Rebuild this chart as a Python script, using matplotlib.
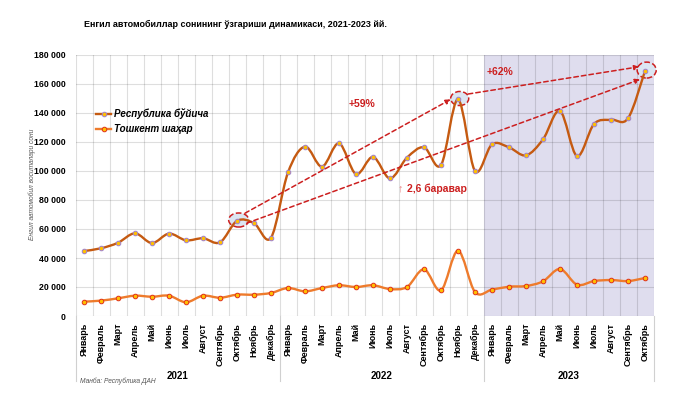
import matplotlib
matplotlib.use("Agg")
import matplotlib.pyplot as plt
import numpy as np
from matplotlib.path import Path
from matplotlib.patches import PathPatch, Ellipse
from matplotlib.ticker import MultipleLocator, FuncFormatter

plt.rcParams['font.family'] = ['Liberation Sans', 'DejaVu Sans']

# data
months = ["Январь", "Февраль", "Март", "Апрель", "Май", "Июнь", "Июль",
          "Август", "Сентябрь", "Октябрь", "Ноябрь", "Декабрь"]
years = ["2021", "2022", "2023"]
month_labels = months * 2 + months[:10]

republic = [44800, 46700, 50500, 57000, 50300, 56800, 52200, 53600, 50800, 65600, 64000, 54000,
            99000, 116800, 103000, 119100, 97900, 109700, 94900, 109200, 116300, 104100, 149400, 100000,
            118400, 116300, 110800, 121800, 141400, 110300, 132400, 135400, 136300, 169000]
tashkent = [9900, 10600, 12200, 14000, 13300, 14000, 9500, 14000, 12600, 14700, 14700, 15900,
            19300, 17000, 19300, 21200, 20000, 21200, 18600, 20000, 32200, 17700, 45000, 16500,
            18200, 20200, 20700, 23900, 32400, 21600, 24100, 24800, 24100, 26200]

title = "Енгил автомобиллар сонининг ўзгариши динамикаси, 2021-2023 йй."
red = "#CC1F1F"


def smooth_path(x, y):
    # excel-like smoothed line: catmull-rom segments as cubic beziers
    pts = np.column_stack([x, y]).astype(float)
    n = len(pts)
    verts = [pts[0]]
    codes = [Path.MOVETO]
    for i in range(n - 1):
        p0 = pts[max(i - 1, 0)]
        p1 = pts[i]
        p2 = pts[i + 1]
        p3 = pts[min(i + 2, n - 1)]
        c1 = p1 + (p2 - p0) / 6
        c2 = p2 - (p3 - p1) / 6
        verts += [c1, c2, p2]
        codes += [Path.CURVE4] * 3
    return Path(verts, codes)


fig = plt.figure(figsize=(6.8, 3.97), dpi=100)
ax = fig.add_axes([75.5 / 680, 81 / 397, 578 / 680, 261 / 397])

x = np.arange(len(republic))
ax.set_xlim(-0.5, len(republic) - 0.5)
ax.set_ylim(0, 180000)

# 2023 shading
ax.axvspan(23.5, len(republic) - 0.5, color="#DFDDEE", zorder=0, lw=0)

# grid
ax.yaxis.set_major_locator(MultipleLocator(20000))
ax.xaxis.set_major_locator(MultipleLocator(1))
ax.set_xticks(np.arange(-0.5, len(republic), 1), minor=True)
ax.grid(True, which="major", axis="y", color="#000000", alpha=0.13, lw=0.8, zorder=1)
ax.grid(True, which="minor", axis="x", color="#000000", alpha=0.13, lw=0.8, zorder=1)
ax.set_axisbelow(True)
for s in ax.spines.values():
    s.set_visible(False)

ax.yaxis.set_major_formatter(FuncFormatter(lambda v, p: f"{int(v):,}".replace(",", " ")))
ax.tick_params(axis="y", length=0, pad=7, labelsize=6.3)
for t in ax.get_yticklabels():
    t.set_fontweight("bold")
ax.set_xticks(x)
ax.set_xticklabels(month_labels, rotation=90, fontsize=6.5, fontweight="bold")
ax.tick_params(axis="x", which="both", length=0, pad=5)

# lines
ax.add_patch(PathPatch(smooth_path(x, republic), fill=False, edgecolor="#C55A11", lw=1.7, zorder=3))
ax.plot(x, republic, ls="none", marker="o", ms=3.3, mfc="#FFC000", mec="#9E80D0", mew=0.7, zorder=4)
ax.add_patch(PathPatch(smooth_path(x, tashkent), fill=False, edgecolor="#EE7B2C", lw=1.7, zorder=3))
ax.plot(x, tashkent, ls="none", marker="o", ms=3.3, mfc="#FFC000", mec="#E0301A", mew=0.7, zorder=4)

# legend
h1, = ax.plot([], [], color="#C55A11", lw=1.7, marker="o", ms=3.3, mfc="#FFC000", mec="#9E80D0", mew=0.7)
h2, = ax.plot([], [], color="#EE7B2C", lw=1.7, marker="o", ms=3.3, mfc="#FFC000", mec="#E0301A", mew=0.7)
ax.legend([h1, h2], ["Республика бўйича", "Тошкент шаҳар"], loc="upper left",
          bbox_to_anchor=(0.02, 0.83), frameon=False, handlelength=1.6, handletextpad=0.3,
          labelspacing=0.5, prop=dict(size=7, weight="bold", style="italic"))

# ellipses round the compared points
for i, w, h in [(9, 1.18, 9700), (22, 1.06, 9700), (33, 1.12, 11000)]:
    ax.add_patch(Ellipse((i + 0.1, republic[i] + 600), w, h, facecolor="#DCE6F2",
                         edgecolor=red, ls="--", lw=1.1, zorder=2, clip_on=False))

# arrows
arrows = [((9, 5300, 0.47), (22, 0, -0.43)),
          ((22, 3700, 0.6), (33, 2900, -0.34)),
          ((9, -1600, 0.57), (33, -5800, -0.29))]
for (i0, dy0, dx0), (i1, dy1, dx1) in arrows:
    ax.annotate("", xy=(i1 + dx1, republic[i1] + dy1), xytext=(i0 + dx0, republic[i0] + dy0),
                arrowprops=dict(arrowstyle="-|>", ls=(0, (3, 2)), color=red, lw=1.1,
                                mutation_scale=7, shrinkA=0, shrinkB=0), zorder=5)

ax.text(16.35, 146200, "+59%", color=red, fontsize=7.5, fontweight="bold", ha="center", va="center")
ax.text(24.47, 168300, "+62%", color=red, fontsize=7.5, fontweight="bold", ha="center", va="center")
ax.text(18.6, 87600, "↑", color="#E88080", fontsize=8, fontweight="bold", ha="center", va="center")
ax.text(19.0, 87600, "2,6 баравар", color=red, fontsize=7.5, fontweight="bold", ha="left", va="center")

# year groups under the axis
tr = ax.get_xaxis_transform()
for b in [-0.5, 11.5, 23.5, len(republic) - 0.5]:
    ax.plot([b, b], [0, -0.25], transform=tr, color="#D0D0D0", lw=0.8, clip_on=False)
for k, yr in enumerate(years):
    lo = -0.5 + 12 * k
    hi = min(lo + 12, len(republic) - 0.5)
    ax.text((lo + hi) / 2, -0.229, yr, transform=tr, ha="center", va="center",
            fontsize=7, fontweight="bold")

fig.text(235 / 680, 1 - 24 / 397, title, ha="center", va="center", fontsize=6.5, fontweight="bold")
fig.text(32 / 680, 1 - 184 / 397, "Енгил автомобил воситалари сони", rotation=90,
         ha="center", va="center", fontsize=4.8, style="italic", color="#555555")
fig.text(80 / 680, 1 - 381 / 397, "Манба: Республика ДАН", ha="left", va="center",
         fontsize=4.8, style="italic", color="#555555")

fig.savefig("out.png", dpi=100)
